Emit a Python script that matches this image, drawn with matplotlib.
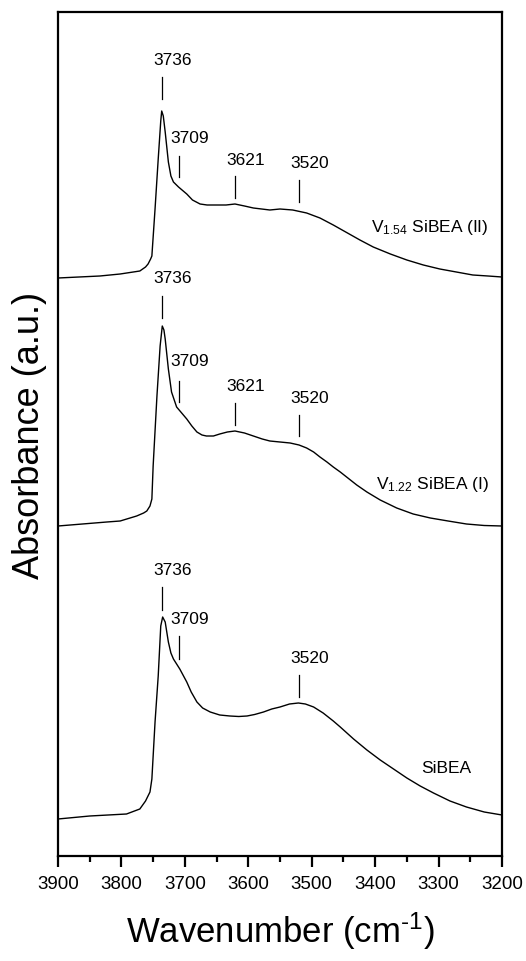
import matplotlib.pyplot as plt

plt.rcParams['font.family'] = ['Liberation Sans', 'DejaVu Sans']
plt.rcParams['mathtext.fontset'] = 'custom'
plt.rcParams['mathtext.rm'] = 'Liberation Sans'
plt.rcParams['mathtext.it'] = 'Liberation Sans'

# spectra (wavenumber, absorbance a.u. with offsets)
wn_top = [3900, 3834, 3802, 3771, 3762, 3758, 3754, 3752, 3747, 3742, 3738, 3736.5, 3734,
          3731, 3726, 3722, 3718, 3710, 3697, 3688, 3676, 3665, 3650, 3635, 3621, 3606,
          3592, 3566, 3550, 3530, 3508, 3487, 3466, 3445, 3424, 3403, 3376, 3350, 3324,
          3298, 3272, 3246, 3222, 3200]
abs_top = [5.78, 5.80, 5.82, 5.85, 5.89, 5.92, 5.97, 6.00, 6.47, 6.97, 7.35, 7.45, 7.40,
           7.24, 6.94, 6.80, 6.74, 6.69, 6.62, 6.56, 6.52, 6.51, 6.51, 6.51, 6.52, 6.50,
           6.48, 6.46, 6.47, 6.46, 6.43, 6.38, 6.31, 6.235, 6.16, 6.09, 6.02, 5.96, 5.91,
           5.87, 5.84, 5.81, 5.80, 5.79]

wn_mid = [3900, 3823, 3802, 3776, 3765, 3760, 3755, 3752, 3750, 3744, 3739, 3735.6, 3733,
          3731, 3726, 3721, 3713, 3705, 3697, 3689, 3681, 3673, 3666, 3655, 3645, 3633,
          3621, 3606, 3592, 3578, 3566, 3550, 3534, 3520, 3508, 3497, 3487, 3476, 3466,
          3455, 3441, 3429, 3413, 3392, 3366, 3340, 3313, 3285, 3256, 3228, 3200]
abs_mid = [3.30, 3.34, 3.35, 3.40, 3.43, 3.45, 3.50, 3.57, 3.90, 4.60, 5.10, 5.30, 5.26,
           5.17, 4.87, 4.64, 4.49, 4.43, 4.37, 4.30, 4.24, 4.21, 4.20, 4.20, 4.22, 4.24,
           4.25, 4.23, 4.20, 4.17, 4.15, 4.14, 4.13, 4.11, 4.08, 4.04, 3.99, 3.94, 3.89,
           3.84, 3.77, 3.71, 3.64, 3.56, 3.48, 3.42, 3.38, 3.35, 3.32, 3.305, 3.30]

wn_bot = [3900, 3850, 3792, 3771, 3762, 3755, 3752, 3747, 3742, 3738, 3735, 3731, 3726,
          3722, 3718, 3708, 3697, 3690, 3681, 3672, 3660, 3645, 3629, 3615, 3602, 3590,
          3576, 3563, 3550, 3535, 3521, 3510, 3497, 3482, 3466, 3455, 3434, 3413, 3392,
          3371, 3350, 3329, 3308, 3282, 3256, 3228, 3200]
abs_bot = [0.37, 0.40, 0.42, 0.47, 0.55, 0.64, 0.77, 1.34, 1.80, 2.30, 2.39, 2.34, 2.14,
           2.03, 1.97, 1.87, 1.74, 1.64, 1.54, 1.48, 1.44, 1.41, 1.40, 1.395, 1.40, 1.415,
           1.44, 1.47, 1.49, 1.52, 1.53, 1.52, 1.49, 1.43, 1.35, 1.29, 1.17, 1.06, 0.96,
           0.87, 0.78, 0.70, 0.63, 0.55, 0.49, 0.44, 0.41]

# peak marks: wavenumber, bottom and top of the marker line, label baseline
peaks_top = [(3736, 7.57, 7.79, 7.92), (3709, 6.79, 7.00, 7.14),
             (3621, 6.58, 6.80, 6.92), (3520, 6.54, 6.76, 6.89)]
peaks_mid = [(3736, 5.38, 5.60, 5.74), (3709, 4.54, 4.75, 4.91),
             (3621, 4.31, 4.53, 4.66), (3520, 4.20, 4.41, 4.54)]
peaks_bot = [(3736, 2.46, 2.69, 2.82), (3709, 1.97, 2.20, 2.33),
             (3520, 1.59, 1.81, 1.94)]

names = [r'V$_{\mathregular{1.54}}$ SiBEA (II)', r'V$_{\mathregular{1.22}}$ SiBEA (I)', 'SiBEA']
name_pos = [(3222, 6.25), (3220, 3.68), (3249, 0.84)]

fig = plt.figure(figsize=(5.26, 9.62), dpi=100)
ax = fig.add_axes([58/526, 1-857/962, 444/526, 844/962])

for w, a in [(wn_top, abs_top), (wn_mid, abs_mid), (wn_bot, abs_bot)]:
    ax.plot(w, a, color='black', linewidth=1.0)

for peaks in [peaks_top, peaks_mid, peaks_bot]:
    for p, y0, y1, yl in peaks:
        ax.plot([p, p], [y0, y1], color='black', linewidth=0.9)
        ax.text(p - 17, yl, str(p), ha='center', va='baseline', fontsize=12.5)

for n, (x, y) in zip(names, name_pos):
    ax.text(x, y, n, ha='right', va='baseline', fontsize=12.5)

ax.set_xlim(3900, 3200)
ax.set_ylim(0, 8.44)
ax.set_xticks(range(3900, 3199, -100))
ax.set_xticks(range(3850, 3199, -100), minor=True)
ax.set_yticks([])
ax.tick_params(axis='x', which='major', direction='out', length=8, width=1.6, labelsize=13.5, pad=6)
ax.tick_params(axis='x', which='minor', direction='out', length=4.5, width=1.6)
for s in ax.spines.values():
    s.set_linewidth(1.6)

ax.set_xlabel('Wavenumber (cm$^{\\mathregular{\u2010 1}}$)', fontsize=25, labelpad=12)
ax.set_ylabel('Absorbance (a.u.)', fontsize=26, labelpad=8)

plt.savefig('out.png', dpi=100)
